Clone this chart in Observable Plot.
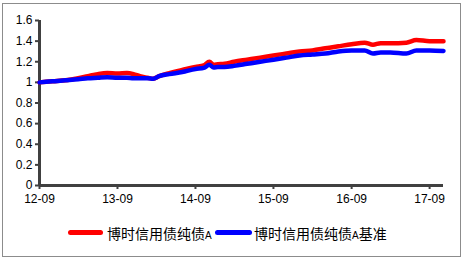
<!DOCTYPE html>
<html>
<head>
<meta charset="utf-8">
<script src="https://cdn.jsdelivr.net/npm/d3@7"></script>
<script src="https://cdn.jsdelivr.net/npm/@observablehq/plot@0.6"></script>
<style>
  html, body { margin: 0; padding: 0; background: #fff; }
  body { width: 469px; height: 262px; position: relative; overflow: hidden; font-family: "Liberation Sans", Arial, sans-serif; }
  #frame { position: absolute; left: 2px; top: 3px; width: 459px; height: 254px; border: 1px solid #8c8c8c; box-sizing: border-box; pointer-events: none; }
  #chart { position: absolute; left: 0; top: 0; }
  .leg { position: absolute; top: 224px; font-size: 14px; font-family: "Noto Sans CJK SC", sans-serif; color: #000; white-space: nowrap; line-height: 18px; }
  .leg .a { font-family: "Liberation Sans", Arial, sans-serif; font-size: 10px; }
  .sw { position: absolute; height: 5px; border-radius: 2.5px; top: 230px; }
</style>
</head>
<body>
<div id="chart"></div>
<div id="legend"></div>
<div id="frame"></div>
<script>
const dates = ["2012-09-01","2012-11-01","2013-01-01","2013-03-01","2013-04-15","2013-06-01","2013-07-15","2013-09-01","2013-10-15","2013-11-15","2013-12-15","2014-01-20","2014-02-15","2014-03-15","2014-05-01","2014-07-01","2014-09-01","2014-10-10","2014-11-05","2014-11-25","2014-12-15","2015-01-15","2015-03-01","2015-05-01","2015-07-01","2015-09-01","2015-11-01","2016-01-01","2016-03-01","2016-05-01","2016-07-01","2016-09-01","2016-11-01","2016-12-10","2017-01-15","2017-03-01","2017-05-15","2017-07-01","2017-09-01","2017-11-05"];
const fundValues = [1.00,1.01,1.02,1.04,1.06,1.08,1.09,1.085,1.09,1.08,1.06,1.045,1.035,1.06,1.09,1.12,1.15,1.165,1.20,1.17,1.175,1.18,1.20,1.22,1.24,1.26,1.28,1.30,1.31,1.33,1.35,1.37,1.385,1.365,1.38,1.38,1.385,1.41,1.40,1.40];
const benchValues = [1.00,1.01,1.02,1.03,1.04,1.045,1.05,1.045,1.045,1.04,1.04,1.04,1.035,1.06,1.08,1.10,1.13,1.14,1.17,1.145,1.15,1.15,1.16,1.18,1.20,1.22,1.24,1.26,1.27,1.28,1.30,1.31,1.31,1.28,1.29,1.29,1.28,1.31,1.31,1.305];
const seriesNames = ["博时信用债纯债", "博时信用债纯债"];
const seriesSuffix = ["", "基准"];
const seriesColors = ["#ff0000", "#0000ff"];
const xTicks = ["2012-09-01","2013-09-01","2014-09-01","2015-09-01","2016-09-01","2017-09-01"];
const yTicks = [0,0.2,0.4,0.6,0.8,1,1.2,1.4,1.6];

const parse = d3.utcParse("%Y-%m-%d");
const fund = dates.map((d, i) => ({date: parse(d), value: fundValues[i]}));
const bench = dates.map((d, i) => ({date: parse(d), value: benchValues[i]}));
const xStart = parse("2012-09-01"), xEnd = parse("2017-11-05");

const chart = Plot.plot({
  width: 469,
  height: 212,
  marginLeft: 39,
  marginRight: 26,
  marginTop: 20,
  marginBottom: 27,
  style: {fontFamily: "'Liberation Sans', Arial, sans-serif", fontSize: "12px", color: "#000", background: "transparent"},
  x: {type: "utc", domain: [xStart, xEnd]},
  y: {domain: [0, 1.6]},
  marks: [
    Plot.axisY({ticks: yTicks, tickSize: 4, strokeWidth: 2, stroke: "#404040", tickPadding: 3, tickFormat: d => String(+d.toFixed(1)), label: null, fill: "#000"}),
    Plot.axisX({ticks: xTicks.map(parse), tickSize: 4, strokeWidth: 2, stroke: "#404040", tickPadding: 5, tickFormat: d3.utcFormat("%y-%m"), label: null, fill: "#000"}),
    Plot.ruleX([xStart], {stroke: "#404040", strokeWidth: 3}),
    Plot.ruleY([0], {stroke: "#404040", strokeWidth: 3}),
    Plot.line(fund, {x: "date", y: "value", stroke: seriesColors[0], strokeWidth: 4.5, curve: "monotone-x"}),
    Plot.line(bench, {x: "date", y: "value", stroke: seriesColors[1], strokeWidth: 4.5, curve: "monotone-x"})
  ]
});
document.getElementById("chart").appendChild(chart);

const legend = document.getElementById("legend");
const swX = [68, 215], txtX = [107, 254];
seriesNames.forEach((name, i) => {
  const sw = document.createElement("div");
  sw.className = "sw";
  sw.style.left = swX[i] + "px";
  sw.style.width = (i === 0 ? 35 : 37) + "px";
  sw.style.background = seriesColors[i];
  legend.appendChild(sw);
  const t = document.createElement("div");
  t.className = "leg";
  t.style.left = txtX[i] + "px";
  t.innerHTML = name + '<span class="a">A</span>' + seriesSuffix[i];
  legend.appendChild(t);
});
</script>
</body>
</html>
